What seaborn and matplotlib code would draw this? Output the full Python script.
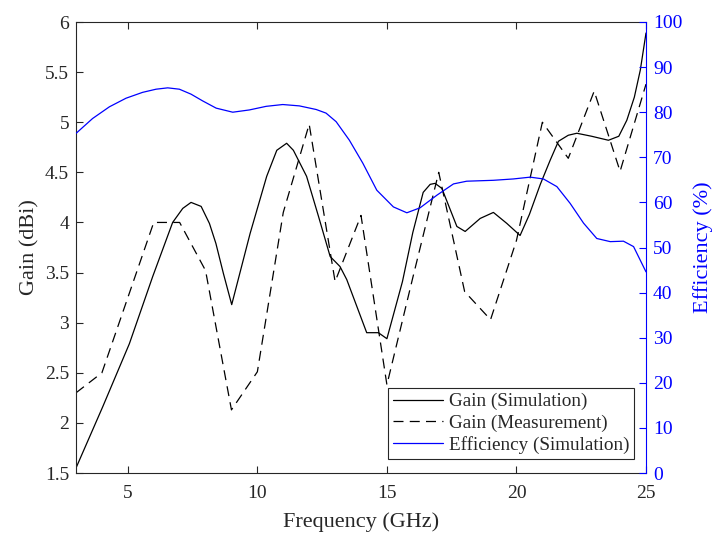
import matplotlib
matplotlib.use("Agg")
import matplotlib.pyplot as plt
import seaborn as sns
import pandas as pd
from matplotlib.lines import Line2D

# ---- data ----
freq_meas = [3, 4, 5, 6, 7, 8, 9, 10, 11, 12, 13, 14, 15, 16, 17, 18, 19, 20, 21, 22, 23, 24, 25]
gain_meas = [2.30, 2.50, 3.25, 4.00, 4.00, 3.52, 2.13, 2.51, 4.10, 4.98, 3.41, 4.07, 2.38,
             3.45, 4.50, 3.31, 3.03, 3.82, 5.00, 4.64, 5.31, 4.51, 5.38]

freq_sim = [3.0, 4.03, 5.06, 5.96, 6.73, 7.12, 7.44, 7.83, 8.15, 8.4, 8.69, 9.01, 9.72, 10.36,
            10.75, 11.13, 11.39, 11.9, 12.36, 12.81, 13.19, 13.45, 14.22, 14.67, 15.0, 15.6,
            16.0, 16.4, 16.67, 16.86, 17.12, 17.38, 17.7, 18.02, 18.6, 19.11, 19.63, 20.14,
            20.5, 20.92, 21.3, 21.62, 22.0, 22.33, 22.9, 23.55, 23.95, 24.26, 24.55, 24.78, 25.0]
gain_sim = [1.55, 2.16, 2.79, 3.46, 4.00, 4.14, 4.20, 4.16, 3.99, 3.79, 3.49, 3.18, 3.89, 4.46,
            4.72, 4.79, 4.72, 4.46, 4.06, 3.66, 3.56, 3.43, 2.90, 2.90, 2.84, 3.41,
            3.90, 4.30, 4.38, 4.39, 4.34, 4.17, 3.96, 3.91, 4.04, 4.10, 3.99, 3.87,
            4.08, 4.38, 4.62, 4.81, 4.87, 4.89, 4.86, 4.82, 4.86, 5.02, 5.25, 5.52, 5.89]

freq_eff = [3.0, 3.64, 4.29, 4.93, 5.57, 6.09, 6.54, 6.99, 7.44, 7.89, 8.41, 9.05, 9.69, 10.34,
            10.98, 11.62, 12.27, 12.65, 13.04, 13.55, 14.07, 14.61, 15.25, 15.77, 16.28, 16.93,
            17.57, 18.08, 19.11, 19.88, 20.53, 21.04, 21.56, 22.07, 22.59, 23.1, 23.62, 24.13,
            24.52, 25.0]
eff_sim = [75.3, 78.6, 81.2, 83.1, 84.4, 85.1, 85.4, 85.1, 84.0, 82.5, 80.9, 80.0, 80.5, 81.3,
           81.7, 81.4, 80.6, 79.8, 77.9, 73.8, 68.7, 62.7, 59.0, 57.7, 58.8, 61.6,
           64.1, 64.7, 64.9, 65.2, 65.6, 65.2, 63.5, 59.8, 55.4, 52.0, 51.3, 51.4,
           50.2, 44.6]

x_ticks = [5, 10, 15, 20, 25]
left_ticks = [1.5, 2, 2.5, 3, 3.5, 4, 4.5, 5, 5.5, 6]
left_tick_labels = ["1.5", "2", "2.5", "3", "3.5", "4", "4.5", "5", "5.5", "6"]
right_ticks = [0, 10, 20, 30, 40, 50, 60, 70, 80, 90, 100]

df_sim = pd.DataFrame({"f": freq_sim, "g": gain_sim})
df_meas = pd.DataFrame({"f": freq_meas, "g": gain_meas})
df_eff = pd.DataFrame({"f": freq_eff, "e": eff_sim})

sns.set_theme(style="white")
plt.rcParams["font.family"] = ["Liberation Serif", "DejaVu Serif"]

dark = "#262626"
blue = "#0000FF"

fig = plt.figure(figsize=(7.15, 5.34), dpi=100)
ax = fig.add_axes([76 / 715, 1 - 473 / 534, 570 / 715, 451 / 534])
ax2 = ax.twinx()

sns.lineplot(data=df_sim, x="f", y="g", ax=ax, color="black", lw=0.9,
             estimator=None, sort=False, legend=False)
sns.lineplot(data=df_meas, x="f", y="g", ax=ax, color="black", lw=0.9,
             estimator=None, sort=False, legend=False)
ax.lines[-1].set_dashes((8, 5))
sns.lineplot(data=df_eff, x="f", y="e", ax=ax2, color=blue, lw=0.9,
             estimator=None, sort=False, legend=False)

ax.set_xlim(3, 25)
ax.set_ylim(1.5, 6)
ax2.set_ylim(0, 100)
ax.set_xticks(x_ticks)
ax.set_yticks(left_ticks)
ax.set_yticklabels(left_tick_labels)
ax2.set_yticks(right_ticks)

ax.set_xlabel("Frequency (GHz)", fontsize=16, color=dark, labelpad=7)
ax.set_ylabel("Gain (dBi)", fontsize=16, color=dark, labelpad=4)
ax2.set_ylabel("Efficiency (%)", fontsize=16, color=blue, labelpad=8)

ax.tick_params(axis="x", direction="in", top=True, bottom=True, length=5, width=0.8,
               colors=dark, labelsize=14, pad=9)
ax.tick_params(axis="y", direction="in", left=True, right=False, length=5, width=0.8,
               colors=dark, labelsize=14, pad=5)
ax2.tick_params(axis="y", direction="in", right=True, length=5, width=0.8,
                colors=blue, labelsize=14, pad=5)

for s in ["left", "bottom", "top"]:
    ax.spines[s].set_color(dark)
    ax.spines[s].set_linewidth(0.8)
for s in ["left", "bottom", "top"]:
    ax2.spines[s].set_visible(False)
ax2.spines["right"].set_color(blue)
ax2.spines["right"].set_linewidth(0.8)
ax.spines["right"].set_visible(False)
ax.grid(False)
ax2.grid(False)

handles = [
    Line2D([], [], color="black", lw=0.9),
    Line2D([], [], color="black", lw=0.9, dashes=(8, 5)),
    Line2D([], [], color=blue, lw=0.9),
]
labels = ["Gain (Simulation)", "Gain (Measurement)", "Efficiency (Simulation)"]
leg = ax2.legend(handles, labels, loc="lower right", bbox_to_anchor=(0.979, 0.031),
                 fontsize=13.8, frameon=True, fancybox=False, framealpha=1,
                 edgecolor=dark, handlelength=2.6, handletextpad=0.3,
                 borderpad=0.25, labelspacing=0.22, borderaxespad=0)
leg.get_frame().set_linewidth(0.8)

fig.savefig("out.png", dpi=100)
